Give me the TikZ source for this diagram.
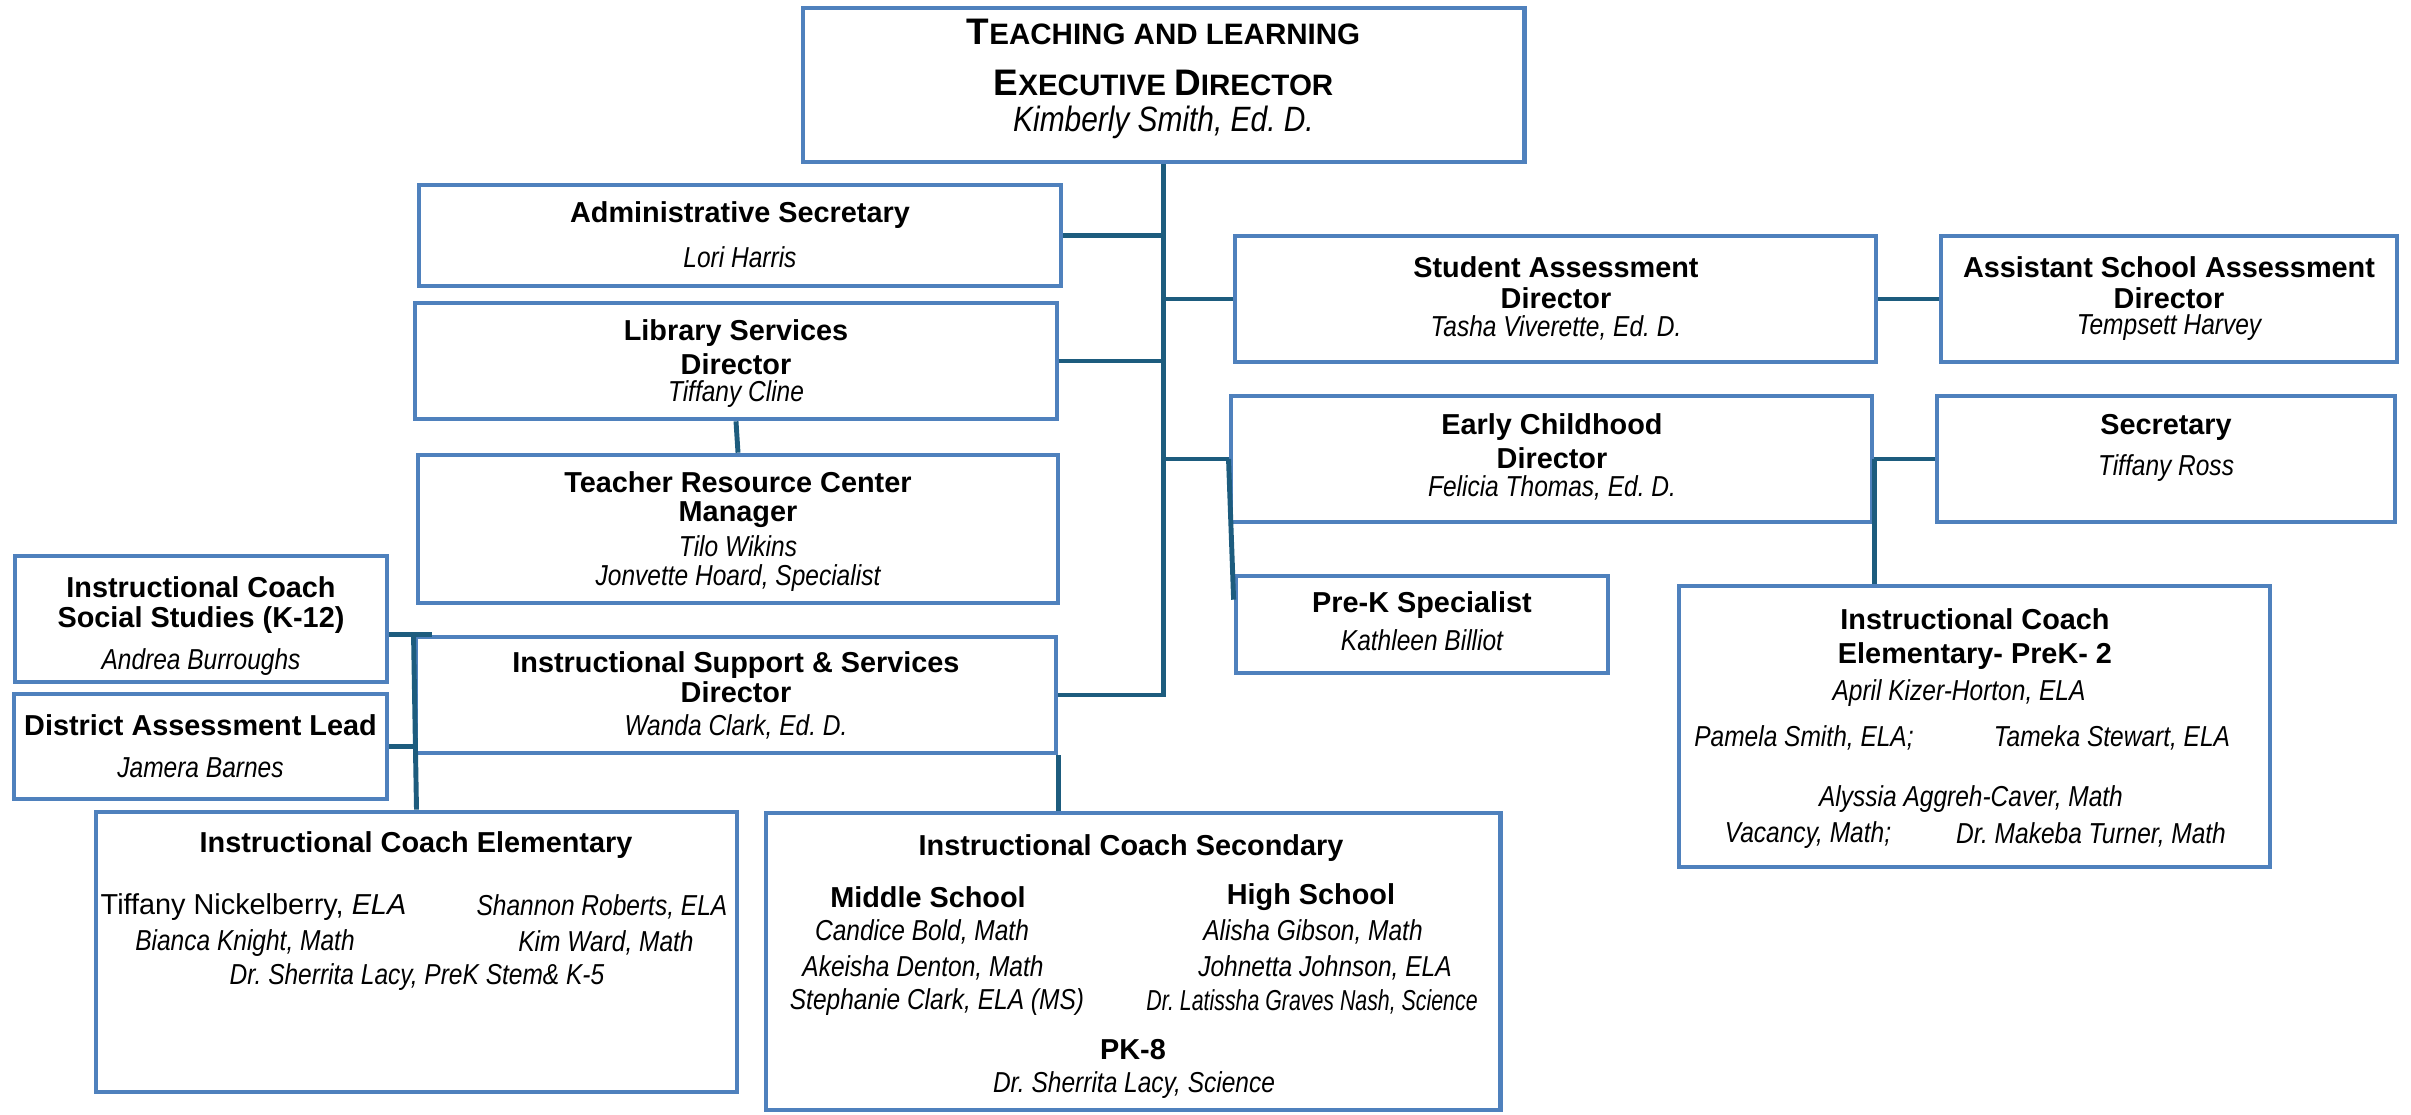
\documentclass[tikz,border=0pt]{standalone}
\usepackage{fontspec}
\setmainfont{Liberation Sans}
\newfontfamily\nrw[FakeStretch=0.85]{Liberation Sans}
\newfontfamily\nrwer[FakeStretch=0.74]{Liberation Sans}
\definecolor{boxblue}{HTML}{4F81BD}
\definecolor{linkteal}{HTML}{1D5C7E}
\newcommand{\initcap}[1]{{\fontsize{10.5}{12}\selectfont #1}}
\frenchspacing
\tikzset{
  box/.style={draw=boxblue, line width=1.3pt, fill=white, inner sep=0pt},
  ttl/.style={font=\bfseries\fontsize{8.2}{10}\selectfont, inner sep=0pt},
  nm/.style={font=\nrw\itshape\fontsize{8.2}{10}\selectfont, inner sep=0pt},
  link/.style={draw=linkteal, line width=1.4pt},
}
\begin{document}
\begin{tikzpicture}[x=0.01cm, y=-0.01cm]
\useasboundingbox (0,0) rectangle (2411,1115);
% boxes
\node[box, minimum width=7.21cm, minimum height=1.54cm] (exec) at (1163.5,85){};
\node[box, minimum width=6.42cm, minimum height=1.01cm] (admin) at (740,235.5){};
\node[box, minimum width=6.42cm, minimum height=1.16cm] (lib) at (736,361){};
\node[box, minimum width=6.40cm, minimum height=1.48cm] (trc) at (738,529){};
\node[box, minimum width=6.41cm, minimum height=1.26cm] (sa) at (1555.5,299){};
\node[box, minimum width=4.56cm, minimum height=1.26cm] (asa) at (2169,299){};
\node[box, minimum width=6.41cm, minimum height=1.26cm] (ec) at (1551.5,459){};
\node[box, minimum width=4.58cm, minimum height=1.26cm] (sec) at (2166,459){};
\node[box, minimum width=3.72cm, minimum height=0.97cm] (prek) at (1422,624.5){};
\node[box, minimum width=5.91cm, minimum height=2.81cm] (prek2) at (1974.5,726.5){};
\node[box, minimum width=3.72cm, minimum height=1.26cm] (ss) at (201,619){};
\node[box, minimum width=6.40cm, minimum height=1.16cm] (isd) at (736,695){};
\node[box, minimum width=3.73cm, minimum height=1.05cm] (dal) at (200.5,746.5){};
\node[box, minimum width=6.41cm, minimum height=2.80cm] (elem) at (416.5,952){};
\node[box, minimum width=7.34cm, minimum height=2.97cm] (sec2) at (1133,961.5){};
% connectors
\draw[link] (exec.south) |- (isd.east);
\draw[link] (admin.east) -- (admin.east -| exec.south);
\draw[link] (lib.east) -- (lib.east -| exec.south);
\draw[link] (sa.west -| exec.south) -- (sa.west);
\draw[link] (ec.west -| exec.south) -- (ec.west);
\draw[link] (sa.east) -- (asa.west);
\draw[link] (ec.east) -- (sec.west);
\draw[link] (ec.east) -- (ec.east |- prek2.north);
\draw[link] (ec.west) -- ([yshift=-0.26cm]prek.north west);
\draw[link] (lib.south) -- (trc.north);
\draw[link] (isd.south east) -- (isd.south east |- sec2.north);
\draw[link] (isd.north west) -- (elem.north);
\draw[link] (ss.east |- isd.north) -- ([xshift=0.18cm]isd.north west);
\draw[link] (dal.east) -- (dal.east -| isd.west);
% texts
\node[ttl, font=\bfseries\fontsize{8.4}{10}\selectfont] (exec-t1) at (1163.5,32){\initcap{T}EACHING AND LEARNING};
\node[ttl, font=\bfseries\fontsize{8.4}{10}\selectfont] (exec-t2) at (1163.5,83){\initcap{E}XECUTIVE \initcap{D}IRECTOR};
\node[nm, font=\nrw\itshape\fontsize{10}{12}\selectfont] (exec-n) at (1163.5,122){Kimberly Smith, Ed. D.};
\node[ttl] (admin-t) at (740,215){Administrative Secretary};
\node[nm] (admin-n) at (740,257){Lori Harris};
\node[ttl] (lib-t1) at (736,333){Library Services};
\node[ttl] (lib-t2) at (736,364){Director};
\node[nm] (lib-n) at (736,394){Tiffany Cline};
\node[ttl] (trc-t1) at (738,482){Teacher Resource Center};
\node[ttl] (trc-t2) at (738,515){Manager};
\node[nm] (trc-n1) at (738,546){Tilo Wikins};
\node[nm] (trc-n2) at (738,578){Jonvette Hoard, Specialist};
\node[ttl] (sa-t1) at (1556,267){Student Assessment};
\node[ttl] (sa-t2) at (1556,298){Director};
\node[nm] (sa-n) at (1556,328){Tasha Viverette, Ed. D.};
\node[ttl] (asa-t1) at (2169,267){Assistant School Assessment};
\node[ttl] (asa-t2) at (2169,298){Director};
\node[nm] (asa-n) at (2169,328){Tempsett Harvey};
\node[ttl] (ec-t1) at (1552,427){Early Childhood};
\node[ttl] (ec-t2) at (1552,458){Director};
\node[nm] (ec-n) at (1552,488){Felicia Thomas, Ed. D.};
\node[ttl] (sec-t) at (2166,427){Secretary};
\node[nm] (sec-n) at (2166,468){Tiffany Ross};
\node[ttl] (prek-t) at (1422,605){Pre-K Specialist};
\node[nm] (prek-n) at (1422,640){Kathleen Billiot};
\node[ttl] (prek2-t1) at (1975,619){Instructional Coach};
\node[ttl] (prek2-t2) at (1975,656){Elementary- PreK- 2};
\node[nm] (prek2-n1) at (1959,693){April Kizer-Horton, ELA};
\node[nm] (prek2-n2) at (1804,738){Pamela Smith, ELA;};
\node[nm] (prek2-n3) at (2112,738){Tameka Stewart, ELA};
\node[nm] (prek2-n4) at (1971,799){Alyssia Aggreh-Caver, Math};
\node[nm] (prek2-n5) at (1808,835){Vacancy, Math;};
\node[nm] (prek2-n6) at (2091,835){Dr. Makeba Turner, Math};
\node[ttl] (ss-t1) at (201,587){Instructional Coach};
\node[ttl] (ss-t2) at (201,620){Social Studies (K-12)};
\node[nm] (ss-n) at (201,662){Andrea Burroughs};
\node[ttl] (isd-t1) at (736,665){Instructional Support \& Services};
\node[ttl] (isd-t2) at (736,692){Director};
\node[nm] (isd-n) at (736,727){Wanda Clark, Ed. D.};
\node[ttl] (dal-t) at (200.5,725){District Assessment Lead};
\node[nm] (dal-n) at (200.5,768){Jamera Barnes};
\node[ttl] (elem-t) at (416,845){Instructional Coach Elementary};
\node[inner sep=0pt, anchor=west, font=\fontsize{8.2}{10}\selectfont] (elem-n1) at (100,907){Tiffany Nickelberry, \textit{ELA}};
\node[nm, anchor=east] (elem-n2) at (728,907){Shannon Roberts, ELA};
\node[nm] (elem-n3) at (245,943){Bianca Knight, Math};
\node[nm] (elem-n4) at (606,943){Kim Ward, Math};
\node[nm] (elem-n5) at (417,977){Dr. Sherrita Lacy, PreK Stem\& K-5};
\node[ttl] (sec2-t) at (1131,848){Instructional Coach Secondary};
\node[ttl] (sec2-ms) at (928,897){Middle School};
\node[ttl] (sec2-hs) at (1311,897){High School};
\node[nm] (sec2-n1) at (922,932){Candice Bold, Math};
\node[nm] (sec2-n2) at (923,968){Akeisha Denton, Math};
\node[nm] (sec2-n3) at (937,1002){Stephanie Clark, ELA (MS)};
\node[nm] (sec2-n4) at (1313,932){Alisha Gibson, Math};
\node[nm] (sec2-n5) at (1325,968){Johnetta Johnson, ELA};
\node[nm, font=\nrwer\itshape\fontsize{8.2}{10}\selectfont] (sec2-n6) at (1312,1002){Dr. Latissha Graves Nash, Science};
\node[ttl] (sec2-pk) at (1133,1050){PK-8};
\node[nm] (sec2-n7) at (1134,1085){Dr. Sherrita Lacy, Science};
\end{tikzpicture}
\end{document}
